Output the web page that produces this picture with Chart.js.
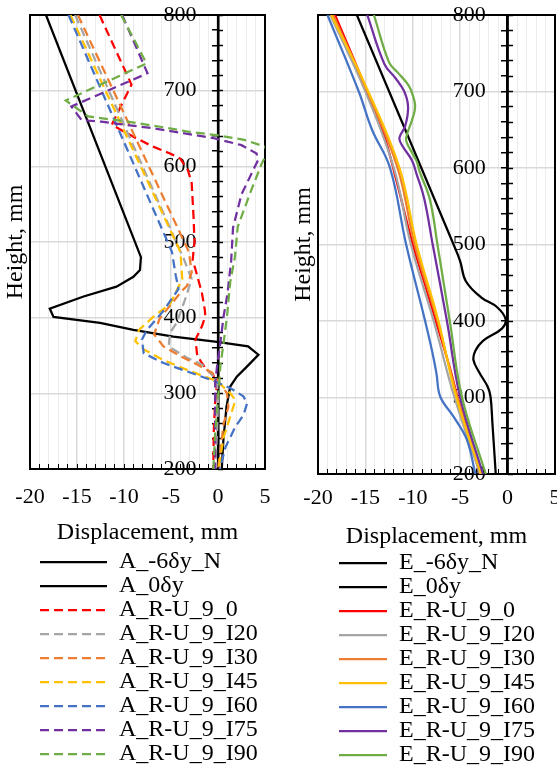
<!DOCTYPE html>
<html>
<head>
<meta charset="utf-8">
<script src="https://cdn.jsdelivr.net/npm/chart.js@4"></script>
<style>
  html, body { margin: 0; padding: 0; background: #fff; overflow: hidden; }
  #wrap { position: relative; width: 557px; height: 765px; overflow: hidden; }
  .panel { position: absolute; top: 0; }
  #left { left: 0; width: 279px; height: 776px; }
  #right { left: 279px; width: 292px; height: 777px; }
</style>
</head>
<body>
<div id="wrap">
  <div class="panel" id="left"><canvas id="chartA"></canvas></div>
  <div class="panel" id="right"><canvas id="chartE"></canvas></div>
</div>
<script>
// legend names
const aLabels = ['A_-6δy_N', 'A_0δy', 'A_R-U_9_0', 'A_R-U_9_I20', 'A_R-U_9_I30', 'A_R-U_9_I45', 'A_R-U_9_I60', 'A_R-U_9_I75', 'A_R-U_9_I90'];
const eLabels = ['E_-6δy_N', 'E_0δy', 'E_R-U_9_0', 'E_R-U_9_I20', 'E_R-U_9_I30', 'E_R-U_9_I45', 'E_R-U_9_I60', 'E_R-U_9_I75', 'E_R-U_9_I90'];
const colors = ['#000000', '#000000', '#ff0000', '#a5a5a5', '#ed7d31', '#ffc000', '#4472c4', '#7030a0', '#70ad47'];

// ---- A (left), height mm / displacement mm
const aN_h = [800, 480, 463, 454, 441, 428, 412, 401, 393, 384, 375, 368, 362, 351, 335, 322, 309, 282, 238, 200];
const aN_d = [-18.3, -8.2, -8.3, -9.0, -10.8, -14.3, -17.9, -17.5, -12.55, -9.0, -4.75, -0.1, 3.2, 4.3, 3.05, 2.0, 1.3, 0.9, 0.57, 0.4];
const a0_h = [800, 200];
const a0_d = [0, 0];
const aR0_h = [800, 708, 655, 639, 626, 617, 610, 595, 578, 533, 500, 476, 464, 432, 410, 402, 389, 371, 349, 331, 324, 313, 290, 250, 200];
const aR0_d = [-12.6, -9.2, -11.3, -9.0, -6.9, -5.1, -4.0, -3.2, -2.8, -2.6, -2.5, -2.7, -2.4, -1.7, -1.4, -1.35, -1.7, -2.4, -2.2, -1.2, -0.5, -0.1, -0.3, -0.45, -0.5];
const aI20_h = [800, 478, 451, 424, 393, 380, 362, 347, 338, 324, 316, 290, 250, 200];
const aI20_d = [-15.2, -3.65, -2.8, -3.5, -4.4, -5.1, -5.25, -3.3, -1.7, -0.6, -0.1, 0.0, -0.1, -0.3];
const aI30_h = [800, 487, 460, 442, 436, 399, 378, 362, 349, 338, 327, 313, 300, 282, 260, 224, 200];
const aI30_d = [-14.9, -3.1, -2.8, -3.3, -3.8, -6.2, -6.8, -5.8, -4.0, -2.2, -0.6, 0.25, 0.96, 1.1, 0.6, 0.25, 0.0];
const aI45_h = [800, 487, 451, 418, 402, 384, 369, 358, 344, 331, 316, 300, 291, 269, 242, 216, 200];
const aI45_d = [-15.7, -4.0, -3.8, -5.1, -6.8, -8.4, -8.8, -7.9, -5.8, -3.3, -0.1, 1.3, 1.85, 1.3, 0.6, 0.25, 0.07];
const aI60_h = [800, 487, 456, 438, 409, 384, 371, 353, 340, 329, 318, 307, 296, 287, 271, 256, 229, 200];
const aI60_d = [-15.9, -4.9, -4.5, -4.2, -5.8, -7.55, -8.1, -7.9, -5.8, -3.3, -0.8, 1.3, 2.7, 3.1, 2.7, 1.85, 0.8, 0.2];
const aI75_h = [800, 723, 679, 661, 659, 650, 637, 628, 617, 608, 563, 519, 475, 431, 402, 367, 336, 313, 200];
const aI75_d = [-10.2, -7.5, -15.6, -14.5, -12.4, -6.7, -0.35, 2.5, 4.1, 4.25, 2.5, 1.6, 1.4, 1.0, 0.6, 0.25, -0.1, -0.3, -0.3];
const aI90_h = [800, 736, 687, 666, 659, 652, 646, 641, 635, 626, 619, 602, 564, 520, 480, 447, 402, 367, 336, 304, 247, 200];
const aI90_d = [-10.3, -7.6, -16.2, -13.8, -9.6, -6.0, -3.2, 0, 2.8, 5.0, 5.25, 4.6, 3.4, 2.1, 1.8, 1.3, 0.96, 0.6, 0.25, 0.07, -0.3, -0.5];

// ---- E (right)
const eN_h = [800, 500, 478, 452, 431, 418, 402, 390, 374, 361, 349, 333, 314, 301, 266, 200];
const eN_d = [-15.9, -5.7, -5.0, -4.4, -2.8, -1.1, -0.2, -0.6, -2.6, -3.4, -3.6, -3.0, -2.1, -1.8, -1.6, -1.25];
const e0_h = [800, 200];
const e0_d = [0, 0];
const eR0_h = [800, 700, 650, 587, 500, 443, 397, 339, 297, 200];
const eR0_d = [-18.2, -14.8, -13.2, -11.8, -10.0, -8.6, -7.5, -6.1, -5.2, -2.9];
const eI20_h = [800, 700, 600, 500, 400, 300, 200];
const eI20_d = [-18.7, -15.0, -12.0, -10.2, -7.8, -5.6, -2.9];
const eI30_h = [800, 700, 600, 500, 400, 300, 200];
const eI30_d = [-18.4, -14.8, -11.6, -9.8, -7.4, -5.3, -2.8];
const eI45_h = [800, 700, 600, 500, 400, 300, 200];
const eI45_d = [-18.6, -14.7, -11.4, -9.6, -7.3, -5.4, -2.8];
const eI60_h = [800, 700, 650, 600, 500, 400, 357, 331, 301, 275, 245, 200];
const eI60_d = [-19.0, -15.7, -14.3, -12.4, -10.7, -8.7, -7.9, -7.5, -7.1, -5.7, -4.3, -3.4];
const eI75_h = [800, 736, 717, 700, 680, 655, 640, 631, 610, 592, 560, 500, 400, 300, 200];
const eI75_d = [-14.8, -13.0, -11.8, -10.9, -10.5, -10.8, -11.4, -11.2, -10.1, -9.6, -8.8, -7.9, -6.4, -5.0, -2.6];
const eI90_h = [800, 738, 725, 707, 686, 675, 662, 640, 632, 609, 596, 559, 500, 400, 300, 200];
const eI90_d = [-14.1, -12.5, -11.6, -10.4, -9.8, -9.8, -10.1, -10.7, -10.6, -9.6, -9.3, -8.2, -7.4, -6.1, -4.8, -2.3];

const aSeries = [[aN_d, aN_h], [a0_d, a0_h], [aR0_d, aR0_h], [aI20_d, aI20_h], [aI30_d, aI30_h], [aI45_d, aI45_h], [aI60_d, aI60_h], [aI75_d, aI75_h], [aI90_d, aI90_h]];
const eSeries = [[eN_d, eN_h], [e0_d, e0_h], [eR0_d, eR0_h], [eI20_d, eI20_h], [eI30_d, eI30_h], [eI45_d, eI45_h], [eI60_d, eI60_h], [eI75_d, eI75_h], [eI90_d, eI90_h]];

Chart.defaults.font.family = "'Liberation Serif', 'Times New Roman', serif";
Chart.defaults.color = '#000';

function toPoints(d, h) {
  return d.map((v, i) => ({ x: v, y: h[i] }));
}

function makePanel(id, labels, series, o) {
  const n = series.length;
  const datasets = series.map((s, i) => ({
    label: labels[i],
    data: toPoints(s[0], s[1]),
    borderColor: colors[i],
    backgroundColor: colors[i],
    borderWidth: 2.25,
    borderDash: (o.dashed && i > 1) ? [9, 5] : [],
    pointRadius: 0,
    showLine: true,
    tension: o.tension,
    order: n - 1 - i,        // later series on top, like the original
    xAxisID: 'x',
    yAxisID: 'y'
  }));

  const edge = {
    type: 'linear', min: 200, max: 800,
    ticks: { display: false },
    grid: { display: false, drawTicks: false },
    border: { color: '#000', width: 2 }
  };

  return new Chart(document.getElementById(id), {
    type: 'scatter',
    data: { datasets },
    options: {
      animation: false,
      responsive: true,
      maintainAspectRatio: false,
      events: [],
      layout: { padding: { left: o.padLeft, right: o.padRight, top: 15, bottom: 0 } },
      scales: {
        x: {
          type: 'linear', position: 'bottom', min: -20, max: 5,
          ticks: {
            stepSize: 1, autoSkip: false, maxRotation: 0, minRotation: 0,
            padding: 0, font: { size: 22 },
            callback: v => (v % 5 === 0 ? v : '')
          },
          grid: {
            color: c => (c.tick && c.tick.value % 5 === 0 ? '#d9d9d9' : '#ececec'),
            lineWidth: c => (c.tick && c.tick.value % 5 === 0 ? 1.5 : 1),
            tickColor: 'rgba(0,0,0,0)', tickLength: o.labelGap
          },
          border: { color: '#000', width: 2 },
          title: { display: true, text: 'Displacement, mm', font: { size: 24 }, padding: { top: o.titleTop, bottom: o.titleBottom } }
        },
        y: {
          type: 'linear', position: { x: 0 }, min: 200, max: 800,
          ticks: { stepSize: 20, autoSkip: false, display: false },
          grid: {
            color: c => (c.tick && c.tick.value % 100 === 0 ? '#d9d9d9' : 'rgba(0,0,0,0)'),
            lineWidth: 1.5,
            tickColor: '#000', tickLength: 5, tickWidth: 1.5
          },
          border: { color: '#000', width: 2.5 }
        },
        // right half of the crossing tick marks on the zero axis
        yTick: {
          axis: 'y', type: 'linear', position: { x: 0 }, min: 200, max: 800,
          ticks: { stepSize: 20, display: false },
          grid: { drawOnChartArea: false, tickColor: '#000', tickLength: -5, tickWidth: 1.5 },
          border: { display: false }
        },
        // height labels, set a little left of the zero axis
        yLabels: {
          axis: 'y', type: 'linear', position: { x: -2.3 }, min: 200, max: 800,
          ticks: { stepSize: 100, padding: 0, font: { size: 22 } },
          grid: { display: false, drawTicks: false },
          border: { display: false }
        },
        // small inward ticks on the bottom axis
        xTick: {
          axis: 'x', type: 'linear', position: { y: 200 }, min: -20, max: 5,
          ticks: { stepSize: 1, display: false },
          grid: { drawOnChartArea: false, tickColor: '#000', tickLength: -5, tickWidth: 1 },
          border: { display: false }
        },
        yLeft: Object.assign({ axis: 'y', position: 'left',
          title: { display: true, text: 'Height, mm', font: { size: 24, lineHeight: 1.2 }, padding: 0 } }, edge),
        yRight: Object.assign({ axis: 'y', position: 'right' }, edge),
        xTop: Object.assign({ axis: 'x', position: 'top' }, edge, { min: -20, max: 5 })
      },
      plugins: {
        tooltip: { enabled: false },
        legend: {
          position: 'bottom', align: 'start', fullSize: false,
          labels: {
            usePointStyle: true, pointStyle: 'line', pointStyleWidth: o.legendLine,
            padding: 0, color: '#000', font: { size: 24 },
            sort: (a, b) => a.datasetIndex - b.datasetIndex,
            // sample line takes the dataset's dash and starts a bit right of the plot edge
            generateLabels(chart) {
              const items = Chart.defaults.plugins.legend.labels.generateLabels(chart);
              items.forEach(it => {
                const ds = chart.data.datasets[it.datasetIndex];
                const dash = ds.borderDash || [];
                let pattern = [0, o.legendGap];
                if (dash.length) {
                  for (let k = 0; k < 10; k++) pattern = pattern.concat(dash);
                } else {
                  pattern.push(o.legendLine - o.legendGap, 1000);
                }
                it.lineDash = pattern;
                it.lineDashOffset = 0;
                it.lineWidth = ds.borderWidth;
                it.strokeStyle = ds.borderColor;
              });
              return items;
            }
          }
        }
      }
    }
  });
}

makePanel('chartA', aLabels, aSeries, {
  dashed: true, tension: 0, padLeft: 1.2, padRight: 14,
  labelGap: 14.8, titleTop: 8, titleBottom: 3, legendLine: 77, legendGap: 10
});
makePanel('chartE', eLabels, eSeries, {
  dashed: false, tension: 0.4, padLeft: 10.2, padRight: 16,
  labelGap: 10.8, titleTop: 11, titleBottom: 0, legendLine: 69, legendGap: 21
});
</script>
</body>
</html>
